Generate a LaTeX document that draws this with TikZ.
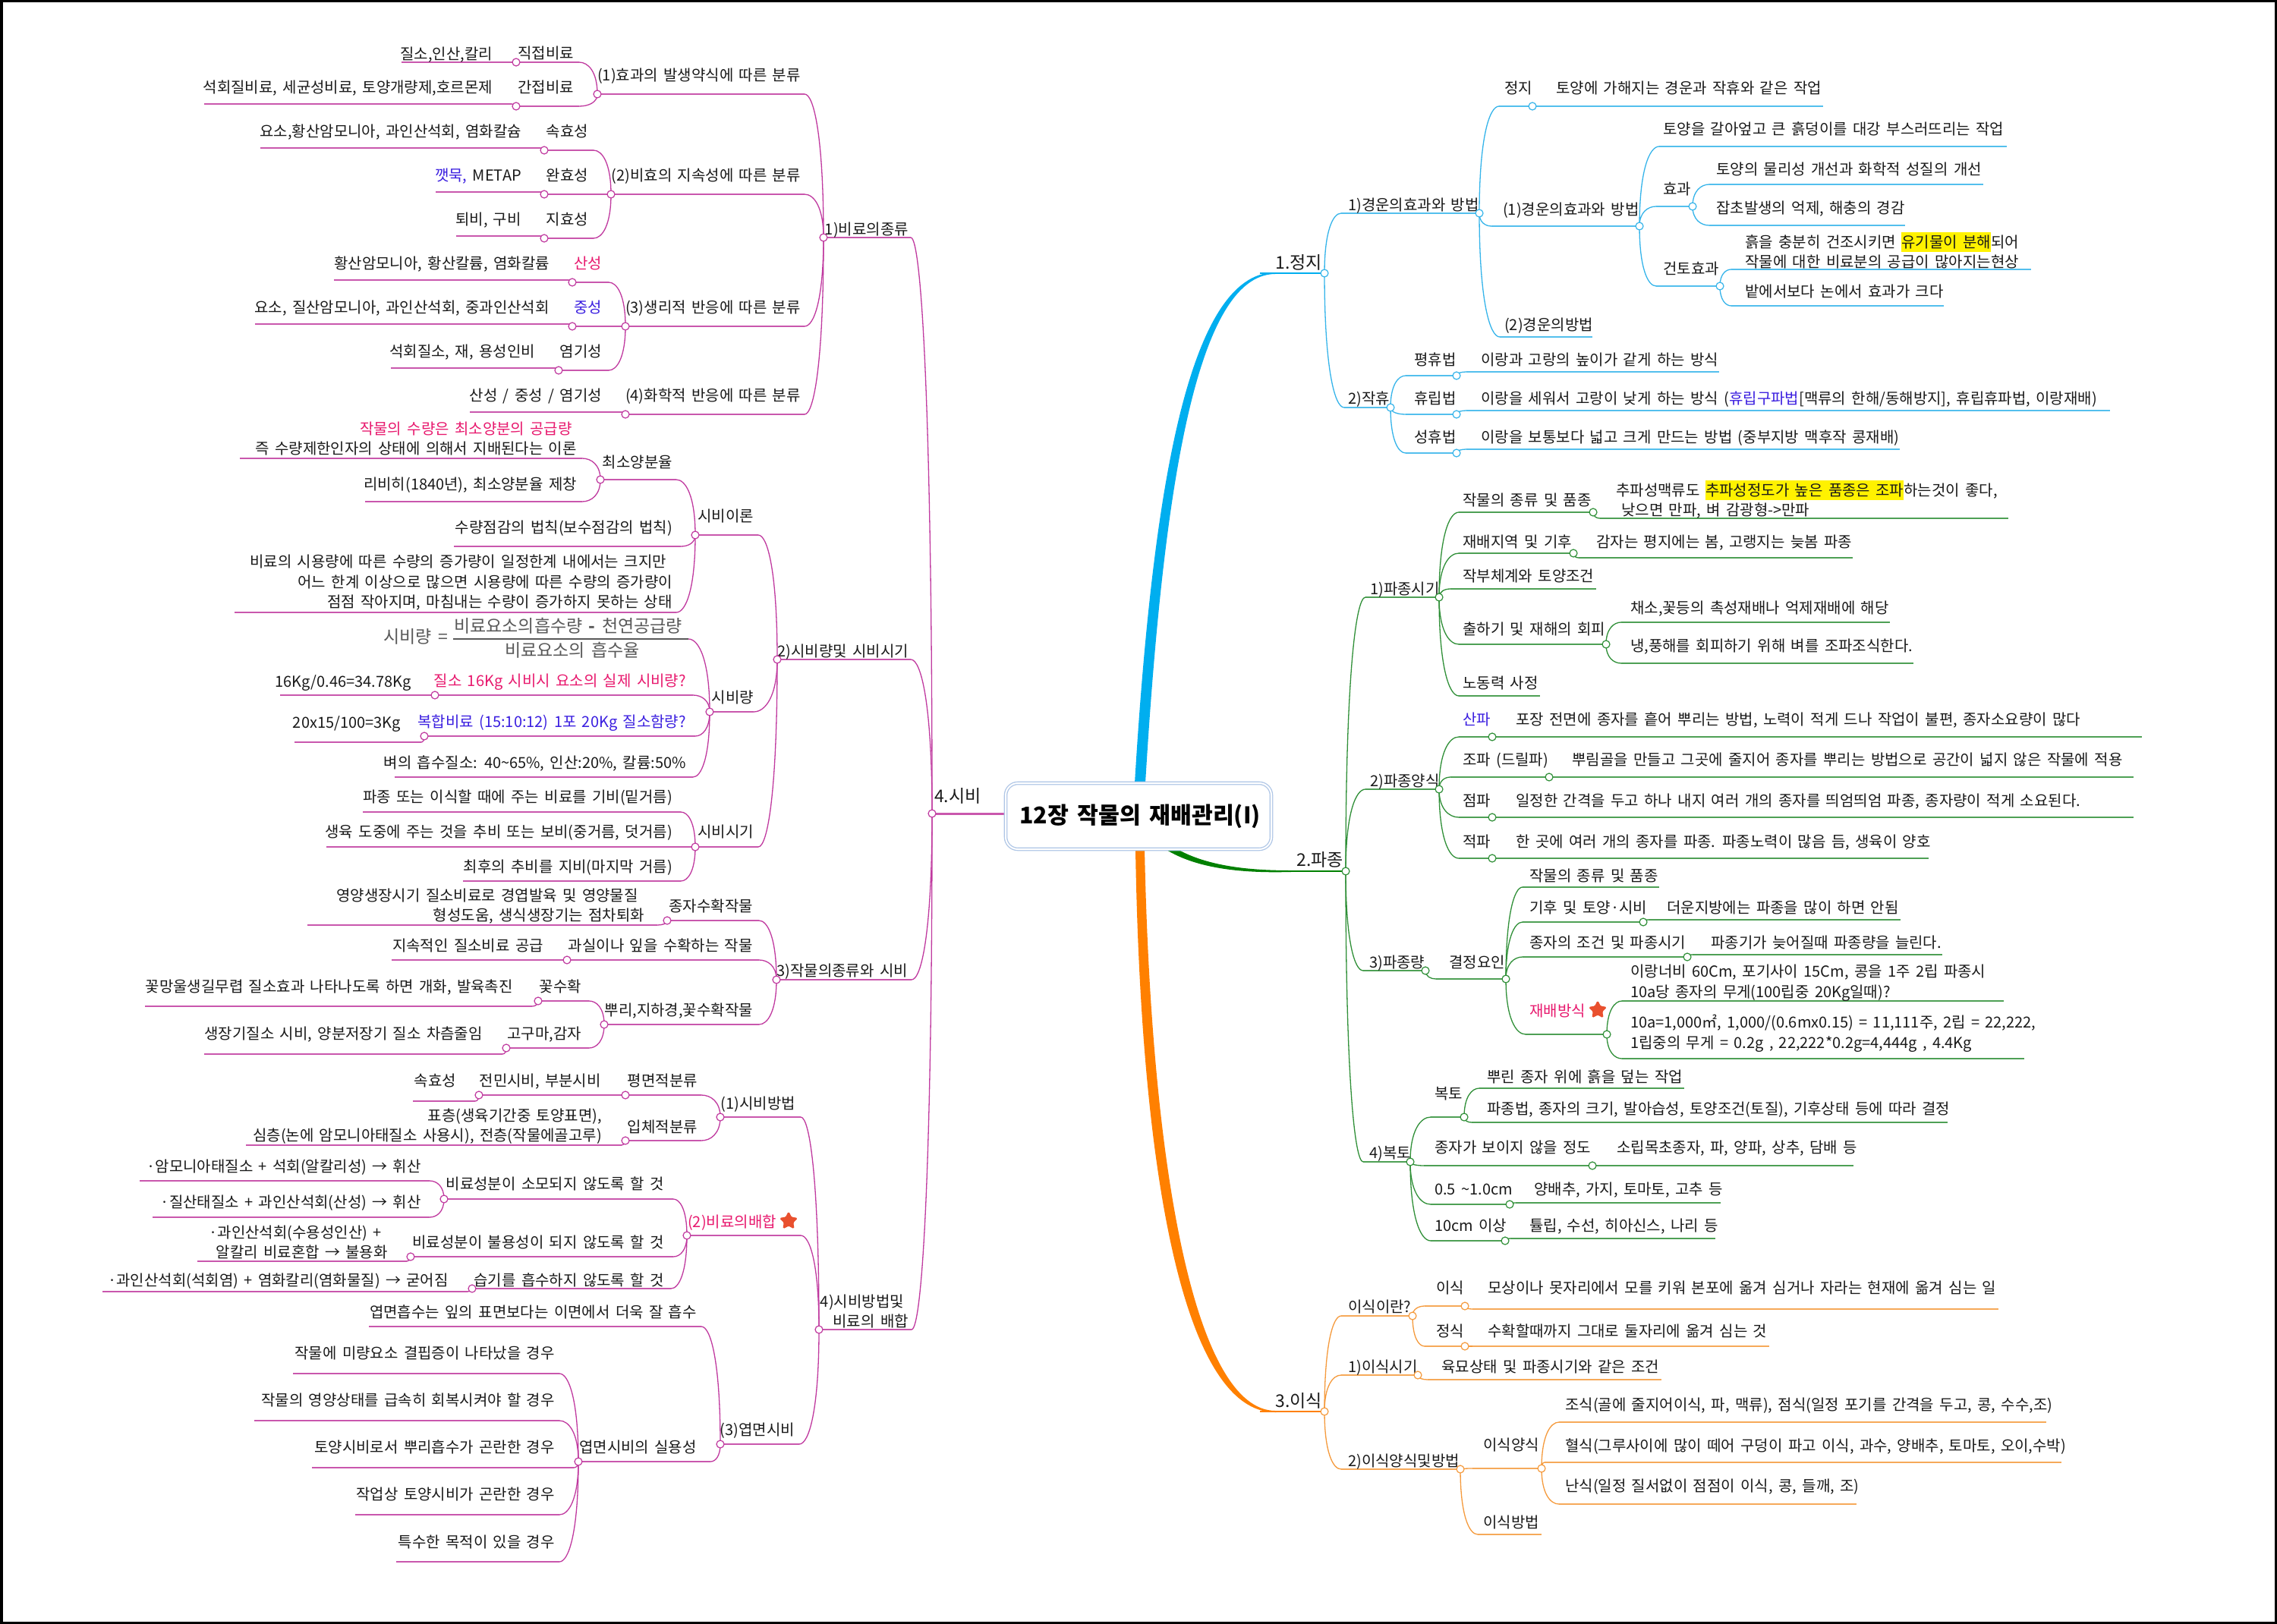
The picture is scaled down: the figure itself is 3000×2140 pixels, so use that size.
\documentclass[tikz,border=0pt]{standalone}
\usepackage{fontspec}
\usepackage{xcolor}
\setmainfont{Noto Sans CJK KR}[WordSpace=1.65]
\usetikzlibrary{shapes.geometric}
\usetikzlibrary{calc}
\definecolor{ferm}{HTML}{C0399F}
\definecolor{skyb}{HTML}{35B4EA}
\definecolor{skyroot}{HTML}{00AEEF}
\definecolor{leaf}{HTML}{2F8F37}
\definecolor{leafroot}{HTML}{008000}
\definecolor{orng}{HTML}{F59A3C}
\definecolor{orngroot}{HTML}{FF8000}
\definecolor{hotpk}{HTML}{E8196E}
\definecolor{vblue}{HTML}{3B1FE0}
\definecolor{ink}{HTML}{1A1A1A}
\definecolor{rimblue}{HTML}{AFC6E6}
\definecolor{starred}{HTML}{E9502E}
\setlength{\fboxsep}{0pt}
\pgfdeclarelayer{bg}
\pgfsetlayers{bg,main}
\tikzset{
    txt/.style = {inner sep=0pt, text=ink, font=\fontsize{20}{26.5}\selectfont, text height=19pt, text depth=4pt},
    ltxt/.style = {txt, anchor=east},
    rtxt/.style = {txt, anchor=west},
    ml/.style = {text height=, text depth=},
    lvl/.style = {font=\fontsize{23}{28}\selectfont},
    pinktxt/.style = {text=hotpk},
    bluetxt/.style = {text=vblue},
    fmla/.style = {lvl, text=black!65},
    uline/.style = {draw=br!85, line width=2.6pt},
    cv/.style = {draw=br, line width=1.3pt},
    dot/.style = {circle, draw=br, fill=white, line width=1.2pt, inner sep=0pt, minimum size=10pt},
    redstar/.style = {star, star points=5, star point ratio=2, fill=starred, draw=starred, line width=1pt, rounded corners=1.5pt, inner sep=0pt, minimum size=24pt},
    main/.style = {rectangle, rounded corners=16pt, draw=rimblue, double=white, double distance=2pt, line width=1.3pt, fill=white, minimum width=350pt, minimum height=87pt, font=\fontsize{30.3}{36}\selectfont\bfseries, text=black}
}
\newcommand{\hlt}[1]{\colorbox{yellow}{\rule[-5.5pt]{0pt}{26pt}#1}}
\newcommand{\cnct}[2]{\draw[cv] (#1) .. controls ($(#1)!0.7!(#1 |- #2)$) and ($(#2)!0.5!(#1 |- #2)$) .. (#2);}
\newcommand{\tl}[9][]{%
    \coordinate (#2-j) at (#4,#6);
    \coordinate (#2-n) at (#5,#6);
    \begin{pgfonlayer}{bg}
        \draw[uline] (#2-j) -- (#2-n);
        \cnct{#3-j}{#2-n}
    \end{pgfonlayer}
    \node[ltxt,#1] (#2) at (#7,#8) {#9};
}
\newcommand{\tr}[9][]{%
    \coordinate (#2-j) at (#5,#6);
    \coordinate (#2-n) at (#4,#6);
    \begin{pgfonlayer}{bg}
        \draw[uline] (#2-n) -- (#2-j);
        \cnct{#3-j}{#2-n}
    \end{pgfonlayer}
    \node[rtxt,#1] (#2) at (#7,#8) {#9};
}
\newcommand{\jd}[1]{\node[dot] (#1-d) at (#1-j) {};}

\begin{document}
\begin{tikzpicture}[x=1pt,y=-1pt]
    \useasboundingbox (0,0) rectangle (3000,2140);
    \begin{pgfonlayer}{bg}
        \fill[white] (0,0) rectangle (3000,2140);
    \end{pgfonlayer}

    \node[main] (title) at (1500,1075.5) {\hspace*{4pt}12장 작물의 재배관리(I)};

    \coordinate (s-j) at (1228,1072);
    \coordinate (j-j) at (1745,360);
    \coordinate (p-j) at (1773,1148);
    \coordinate (i-j) at (1745,1860);

    \node[rtxt,lvl] (s) at (1231,1050) {4.시비};
    \node[ltxt,lvl] (j) at (1742,347) {1.정지};
    \node[ltxt,lvl] (p) at (1770,1134) {2.파종};
    \node[ltxt,lvl] (i) at (1742,1847) {3.이식};

    \begin{pgfonlayer}{bg}
        \draw[draw=ferm!85, line width=3pt] (s-j) -- (title.west |- s-j);
        \fill[skyroot] (1495,1032) .. controls (1518,650) and (1565,359) .. (1680,359) -- (j-j) -- (1680,361) .. controls (1575,362) and (1532,650) .. (1509,1032) -- cycle;
        \fill[leafroot] (1553,1120) .. controls (1590,1140) and (1640,1147) .. (1700,1147) -- (p-j) -- (1700,1149) .. controls (1630,1151) and (1575,1143) .. (1537,1120) -- cycle;
        \fill[orngroot] (1496,1119) .. controls (1503,1560) and (1562,1861) .. (1680,1861) -- (i-j) -- (1680,1859) .. controls (1578,1858) and (1517,1560) .. (1508,1119) -- cycle;
        \draw[skyroot, line width=2.4pt] (1660,360) -- (j-j);
        \draw[leafroot, line width=2.4pt] (1690,1148) -- (p-j);
        \draw[orngroot, line width=2.4pt] (1660,1860) -- (i-j);
    \end{pgfonlayer}

    \colorlet{br}{ferm}
    \jd{s}
    \tl{s1}{s}{1085}{1200}{313}{1197}{302}{1)비료의종류} \jd{s1}
    \tl{s11}{s1}{787}{1060}{124}{1055}{99}{(1)효과의 발생약식에 따른 분류} \jd{s11}
    \tl{s111}{s11}{680}{763}{82}{756}{70}{직접비료} \jd{s111}
    \tl{s1111}{s111}{529}{680}{82}{649}{71}{질소,인산,칼리}
    \tl{s112}{s11}{680}{763}{140}{756}{115}{간접비료} \jd{s112}
    \tl{s1121}{s112}{269}{674}{137}{649}{115}{석회질비료, 세균성비료, 토양개량제,호르몬제}
    \tl{s12}{s1}{805}{1060}{256}{1055}{231}{(2)비효의 지속성에 따른 분류} \jd{s12}
    \tl{s121}{s12}{717}{782}{198}{775}{173}{속효성} \jd{s121}
    \tl{s1211}{s121}{343}{712}{195}{687}{173}{요소,황산암모니아, 과인산석회, 염화칼슘}
    \tl{s122}{s12}{717}{805}{256}{775}{231}{완효성} \jd{s122}
    \tl{s1221}{s122}{574}{712}{253}{687}{231}{{\color{vblue}깻묵,} METAP}
    \tl{s123}{s12}{717}{782}{314}{775}{289}{지효성} \jd{s123}
    \tl{s1231}{s123}{601}{712}{311}{687}{289}{퇴비, 구비}
    \tl{s13}{s1}{824}{1060}{430}{1055}{405}{(3)생리적 반응에 따른 분류} \jd{s13}
    \tl[pinktxt]{s131}{s13}{754}{802}{372}{793}{347}{산성} \jd{s131}
    \tl{s1311}{s131}{440}{749}{369}{724}{347}{황산암모니아, 황산칼륨, 염화칼륨}
    \tl[bluetxt]{s132}{s13}{754}{824}{430}{793}{405}{중성} \jd{s132}
    \tl{s1321}{s132}{336}{749}{427}{724}{405}{요소, 질산암모니아, 과인산석회, 중과인산석회}
    \tl{s133}{s13}{736}{802}{488}{793}{463}{염기성} \jd{s133}
    \tl{s1331}{s133}{515}{731}{485}{705}{463}{석회질소, 재, 용성인비}
    \tl{s14}{s1}{824}{1060}{546}{1055}{521}{(4)화학적 반응에 따른 분류} \jd{s14}
    \tl{s141}{s14}{619}{819}{543}{793}{521}{산성 / 중성 / 염기성}

    \tl{s2}{s}{1024}{1200}{869}{1197}{858}{2)시비량및 시비시기} \jd{s2}
    \tl{s21}{s2}{916}{999}{705}{993}{680}{시비이론} \jd{s21}
    \tl{s211}{s21}{791}{891}{632}{886}{609}{최소양분율} \jd{s211}
    \tl[ml,align=right]{s2111}{s211}{316}{767}{604}{760}{578}{{\color{hotpk}작물의 수량은 최소양분의 공급량}\hspace*{6pt}\\즉 수량제한인자의 상태에 의해서 지배된다는 이론}
    \tl{s2112}{s211}{481}{767}{661}{760}{638}{리비히(1840년), 최소양분율 제창}
    \tl{s212}{s21}{598}{897}{720}{886}{695}{수량점감의 법칙(보수점감의 법칙)}
    \tl[ml,align=right]{s213}{s21}{309}{891}{807}{886}{768}{비료의 시용량에 따른 수량의 증가량이 일정한계 내에서는 크지만\hspace*{8pt}\\어느 한계 이상으로 많으면 시용량에 따른 수량의 증가량이\hspace*{8pt}\\점점 작아지며, 마침내는 수량이 증가하지 못하는 상태}
    \tl{s22}{s2}{935}{993}{938}{993}{919}{시비량} \jd{s22}
    \coordinate (fm-a) at (597,842);
    \coordinate (fm-b) at (907,842);
    \begin{pgfonlayer}{bg}
        \draw[draw=black!65, line width=2pt] (fm-a) -- (fm-b);
        \cnct{s22-j}{fm-b}
    \end{pgfonlayer}
    \node[ltxt,fmla] (fm-l) at (590,840) {시비량 =};
    \node[rtxt,fmla] (fm-t) at (598,826) {비료요소의흡수량 \textbf{-} 천연공급량};
    \node[rtxt,fmla] (fm-u) at (665,858) {비료요소의 흡수율};
    \tl[pinktxt]{s221}{s22}{573}{913}{916}{904}{897}{질소 16Kg 시비시 요소의 실제 시비량?} \jd{s221}
    \tl{s2211}{s221}{369}{573}{916}{542}{898}{16Kg/0.46=34.78Kg}
    \tl[bluetxt]{s222}{s22}{559}{916}{970}{904}{951}{복합비료 (15:10:12) 1포 20Kg 질소함량?} \jd{s222}
    \tl{s2221}{s222}{388}{555}{978}{528}{952}{20x15/100=3Kg}
    \tl{s223}{s22}{520}{913}{1024}{904}{1005}{벼의 흡수질소: 40\textasciitilde65\%, 인산:20\%, 칼륨:50\%}
    \tl{s23}{s2}{916}{999}{1116}{993}{1096}{시비시기} \jd{s23}
    \tl{s231}{s23}{478}{897}{1070}{886}{1050}{파종 또는 이식할 때에 주는 비료를 기비(밑거름)}
    \tl{s232}{s23}{430}{912}{1116}{886}{1096}{생육 도중에 주는 것을 추비 또는 보비(중거름, 덧거름)}
    \tl{s233}{s23}{610}{897}{1161}{886}{1142}{최후의 추비를 지비(마지막 거름)}

    \tl{s3}{s}{1023}{1201}{1291}{1196}{1279}{3)작물의종류와 시비} \jd{s3}
    \tl{s31}{s3}{879}{1000}{1213}{992}{1194}{종자수확작물} \jd{s31}
    \tl[ml,align=right]{s311}{s31}{405}{866}{1219}{849}{1194}{영양생장시기 질소비료로 경엽발육 및 영양물질\hspace*{8pt}\\형성도움, 생식생장기는 점차퇴화}
    \tl{s32}{s3}{747}{1000}{1265}{992}{1246}{과실이나 잎을 수확하는 작물} \jd{s32}
    \tl{s321}{s32}{516}{747}{1265}{716}{1246}{지속적인 질소비료 공급}
    \tl{s33}{s3}{796}{1000}{1350}{992}{1331}{뿌리,지하경,꽃수확작물} \jd{s33}
    \tl{s331}{s33}{709}{776}{1319}{766}{1300}{꽃수확} \jd{s331}
    \tl{s3311}{s331}{191}{701}{1326}{676}{1300}{꽃망울생길무렵 질소효과 나타나도록 하면 개화, 발육촉진}
    \tl{s332}{s33}{667}{776}{1381}{766}{1362}{고구마,감자} \jd{s332}
    \tl{s3321}{s332}{269}{662}{1389}{636}{1362}{생장기질소 시비, 양분저장기 질소 차츰줄임}

    \tl[ml,align=right]{s4}{s}{1079}{1201}{1752}{1197}{1728}{4)시비방법및\hspace*{6pt}\\비료의 배합} \jd{s4}
    \tl{s41}{s4}{949}{1055}{1472}{1048}{1454}{(1)시비방법} \jd{s41}
    \tl{s411}{s41}{824}{924}{1443}{919}{1424}{평면적분류} \jd{s411}
    \tl{s4111}{s411}{631}{824}{1443}{792}{1424}{전민시비, 부분시비} \jd{s4111}
    \tl{s41111}{s4111}{544}{626}{1451}{601}{1424}{속효성}
    \tl{s412}{s41}{824}{924}{1503}{919}{1485}{입체적분류} \jd{s412}
    \tl[ml,align=right]{s4121}{s412}{324}{819}{1509}{793}{1484}{표층(생육기간중 토양표면),\\심층(논에 암모니아태질소 사용시), 전층(작물에골고루)}
    \tl[pinktxt]{s42}{s4}{905}{1055}{1628}{1023}{1610}{(2)비료의배합} \jd{s42}
    \node[redstar] (s42-star) at (1039,1609) {};
    \tl{s421}{s42}{585}{887}{1580}{875}{1560}{비료성분이 소모되지 않도록 할 것} \jd{s421}
    \tl{s4211}{s421}{184}{566}{1556}{555}{1537}{·암모니아태질소 + 석회(알칼리성) → 휘산}
    \tl{s4212}{s421}{201}{566}{1604}{555}{1584}{·질산태질소 + 과인산석회(산성) → 휘산}
    \tl{s422}{s42}{541}{887}{1656}{875}{1637}{비료성분이 불용성이 되지 않도록 할 것} \jd{s422}
    \tl[ml,align=right]{s4221}{s422}{260}{536}{1662}{511}{1637}{·과인산석회(수용성인산) +\hspace*{8pt}\\알칼리 비료혼합 → 불용화}
    \tl{s423}{s42}{622}{884}{1698}{875}{1687}{습기를 흡수하지 않도록 할 것} \jd{s423}
    \tl{s4231}{s423}{135}{616}{1702}{591}{1687}{·과인산석회(석회염) + 염화칼리(염화물질) → 굳어짐}
    \tl{s43}{s4}{949}{1053}{1903}{1047}{1884}{(3)엽면시비} \jd{s43}
    \tl{s431}{s43}{486}{924}{1748}{918}{1729}{엽면흡수는 잎의 표면보다는 이면에서 더욱 잘 흡수}
    \tl{s432}{s43}{762}{936}{1926}{918}{1907}{엽면시비의 실용성} \jd{s432}
    \tl{s4321}{s432}{386}{737}{1810}{731}{1783}{작물에 미량요소 결핍증이 나타났을 경우}
    \tl{s4322}{s432}{335}{737}{1872}{731}{1845}{작물의 영양상태를 급속히 회복시켜야 할 경우}
    \tl{s4323}{s432}{411}{756}{1934}{731}{1907}{토양시비로서 뿌리흡수가 곤란한 경우}
    \tl{s4324}{s432}{468}{737}{1996}{731}{1969}{작업상 토양시비가 곤란한 경우}
    \tl{s4325}{s432}{522}{737}{2058}{731}{2032}{특수한 목적이 있을 경우}

    \colorlet{br}{skyb}
    \jd{j}
    \tr{j1}{j}{1767}{1949}{281}{1776}{270}{1)경운의효과와 방법} \jd{j1}
    \tr{j11}{j1}{1975}{2019}{140}{1982}{116}{정지} \jd{j11}
    \tr{j111}{j11}{2019}{2402}{140}{2050}{116}{토양에 가해지는 경운과 작휴와 같은 작업}
    \tr{j12}{j1}{1965}{2160}{298}{1980}{276}{(1)경운의효과와 방법} \jd{j12}
    \tr{j121}{j12}{2186}{2644}{193}{2191}{170}{토양을 갈아엎고 큰 흙덩이를 대강 부스러뜨리는 작업}
    \tr{j122}{j12}{2182}{2230}{272}{2191}{249}{효과} \jd{j122}
    \tr{j1221}{j122}{2252}{2613}{243}{2261}{223}{토양의 물리성 개선과 화학적 성질의 개선}
    \tr{j1222}{j122}{2252}{2510}{297}{2261}{274}{잡초발생의 억제, 해충의 경감}
    \tr{j123}{j12}{2182}{2266}{377}{2191}{354}{건토효과} \jd{j123}
    \tr[ml,align=left]{j1231}{j123}{2281}{2676}{355}{2299}{330}{흙을 충분히 건조시키면 \hlt{유기물이 분해}되어\\작물에 대한 비료분의 공급이 많아지는현상}
    \tr{j1232}{j123}{2281}{2561}{403}{2299}{384}{밭에서보다 논에서 효과가 크다}
    \tr{j13}{j1}{1976}{2098}{444}{1982}{428}{(2)경운의방법}
    \tr{j2}{j}{1771}{1832}{537}{1776}{525}{2)작휴} \jd{j2}
    \tr{j21}{j2}{1852}{1919}{495}{1863}{474}{평휴법} \jd{j21}
    \tr{j211}{j21}{1932}{2265}{490}{1951}{474}{이랑과 고랑의 높이가 같게 하는 방식}
    \tr{j22}{j2}{1852}{1919}{546}{1863}{525}{휴립법} \jd{j22}
    \tr{j221}{j22}{1932}{2780}{541}{1951}{525}{이랑을 세워서 고랑이 낮게 하는 방식 ({\color{vblue}휴립구파법}[맥류의 한해/동해방지], 휴립휴파법, 이랑재배)}
    \tr{j23}{j2}{1852}{1919}{597}{1863}{576}{성휴법} \jd{j23}
    \tr{j231}{j23}{1932}{2503}{592}{1951}{576}{이랑을 보통보다 넓고 크게 만드는 방법 (중부지방 맥후작 콩재배)}

    \colorlet{br}{leaf}
    \jd{p}
    \tr{p1}{p}{1799}{1896}{787}{1805}{776}{1)파종시기} \jd{p1}
    \tr{p11}{p1}{1922}{2099}{675}{1927}{659}{작물의 종류 및 품종} \jd{p11}
    \tr[ml,align=left]{p111}{p11}{2108}{2646}{683}{2129}{658}{추파성맥류도 \hlt{추파성정도가 높은 품종은 조파}하는것이 좋다,\\\hspace*{7pt}낮으면 만파, 벼 감광형->만파}
    \tr{p12}{p1}{1922}{2073}{729}{1927}{714}{재배지역 및 기후} \jd{p12}
    \tr{p121}{p12}{2080}{2441}{735}{2103}{714}{감자는 평지에는 봄, 고랭지는 늦봄 파종}
    \tr{p13}{p1}{1911}{2103}{776}{1927}{759}{작부체계와 토양조건}
    \tr{p14}{p1}{1922}{2116}{849}{1927}{829}{출하기 및 재해의 회피} \jd{p14}
    \tr{p141}{p14}{2136}{2490}{820}{2148}{801}{채소,꽃등의 촉성재배나 억제재배에 해당}
    \tr{p142}{p14}{2136}{2521}{874}{2148}{851}{냉,풍해를 회피하기 위해 벼를 조파조식한다.}
    \tr{p15}{p1}{1922}{2029}{917}{1927}{900}{노동력 사정}
    \tr{p2}{p}{1799}{1896}{1040}{1805}{1029}{2)파종양식} \jd{p2}
    \tr[bluetxt]{p21}{p2}{1922}{1966}{971}{1927}{948}{산파} \jd{p21}
    \tr{p211}{p21}{1966}{2822}{971}{1997}{948}{포장 전면에 종자를 흩어 뿌리는 방법, 노력이 적게 드나 작업이 불편, 종자소요량이 많다}
    \tr{p22}{p2}{1911}{2041}{1024}{1927}{1001}{조파 (드릴파)} \jd{p22}
    \tr{p221}{p22}{2041}{2811}{1024}{2071}{1001}{뿌림골을 만들고 그곳에 줄지어 종자를 뿌리는 방법으로 공간이 넓지 않은 작물에 적용}
    \tr{p23}{p2}{1922}{1966}{1077}{1927}{1055}{점파} \jd{p23}
    \tr{p231}{p23}{1966}{2811}{1077}{1997}{1055}{일정한 간격을 두고 하나 내지 여러 개의 종자를 띄엄띄엄 파종, 종자량이 적게 소요된다.}
    \tr{p24}{p2}{1922}{1966}{1131}{1927}{1109}{적파} \jd{p24}
    \tr{p241}{p24}{1966}{2541}{1131}{1997}{1109}{한 곳에 여러 개의 종자를 파종. 파종노력이 많음 듬, 생육이 양호}
    \tr{p3}{p}{1796}{1878}{1279}{1804}{1268}{3)파종량} \jd{p3}
    \tr{p31}{p3}{1892}{1984}{1290}{1909}{1268}{결정요인} \jd{p31}
    \tr{p311}{p31}{2006}{2186}{1169}{2015}{1154}{작물의 종류 및 품종}
    \tr{p312}{p31}{2006}{2165}{1215}{2015}{1196}{기후 및 토양·시비} \jd{p312}
    \tr{p3121}{p312}{2172}{2504}{1212}{2196}{1196}{더운지방에는 파종을 많이 하면 안됨}
    \tr{p313}{p31}{2006}{2223}{1261}{2015}{1242}{종자의 조건 및 파종시기} \jd{p313}
    \tr{p3131}{p313}{2230}{2559}{1258}{2254}{1242}{파종기가 늦어질때 파종량을 늘린다.}
    \tr[pinktxt]{p314}{p31}{2010}{2117}{1363}{2015}{1332}{재배방식} \jd{p314}
    \node[redstar] (p314-star) at (2105,1331) {};
    \tr[ml,align=left]{p3141}{p314}{2137}{2640}{1319}{2148}{1295}{이랑너비 60Cm, 포기사이 15Cm, 콩을 1주 2립 파종시\\10a당 종자의 무게(100립중 20Kg일때)?}
    \tr[ml,align=left]{p3142}{p314}{2137}{2667}{1395}{2148}{1362}{10a=1,000㎡, 1,000/(0.6mx0.15) = 11,111주, 2립 = 22,222,\\1립중의 무게 = 0.2g , 22,222*0.2g=4,444g , 4.4Kg}
    \tr{p4}{p}{1796}{1858}{1531}{1804}{1519}{4)복토} \jd{p4}
    \tr{p41}{p4}{1885}{1929}{1472}{1890}{1441}{복토} \jd{p41}
    \tr{p411}{p41}{1949}{2219}{1434}{1959}{1419}{뿌린 종자 위에 흙을 덮는 작업}
    \tr{p412}{p41}{1939}{2566}{1479}{1959}{1461}{파종법, 종자의 크기, 발아습성, 토양조건(토질), 기후상태 등에 따라 결정}
    \tr{p42}{p4}{1876}{2098}{1536}{1890}{1512}{종자가 보이지 않을 정도} \jd{p42}
    \tr{p421}{p42}{2098}{2442}{1536}{2130}{1512}{소립목초종자, 파, 양파, 상추, 담배 등}
    \tr{p43}{p4}{1885}{1989}{1587}{1890}{1567}{0.5 \textasciitilde1.0cm} \jd{p43}
    \tr{p431}{p43}{1997}{2267}{1585}{2021}{1567}{양배추, 가지, 토마토, 고추 등}
    \tr{p44}{p4}{1885}{1983}{1635}{1890}{1615}{10cm 이상} \jd{p44}
    \tr{p441}{p44}{1990}{2260}{1632}{2015}{1615}{튤립, 수선, 히아신스, 나리 등}

    \colorlet{br}{orng}
    \jd{i}
    \tr{i1}{i}{1767}{1861}{1734}{1776}{1722}{이식이란?} \jd{i1}
    \tr{i11}{i1}{1877}{1930}{1721}{1892}{1697}{이식} \jd{i11}
    \tr{i111}{i11}{1940}{2633}{1725}{1960}{1697}{모상이나 못자리에서 모를 키워 본포에 옮겨 심거나 자라는 현재에 옮겨 심는 일}
    \tr{i12}{i1}{1877}{1930}{1774}{1892}{1754}{정식} \jd{i12}
    \tr{i121}{i12}{1940}{2331}{1774}{1960}{1754}{수확할때까지 그대로 둘자리에 옮겨 심는 것}
    \tr{i2}{i}{1767}{1868}{1812}{1776}{1801}{1)이식시기} \jd{i2}
    \tr{i21}{i2}{1881}{2189}{1818}{1899}{1801}{육묘상태 및 파종시기와 같은 조건}
    \tr{i3}{i}{1767}{1924}{1936}{1776}{1925}{2)이식양식및방법} \jd{i3}
    \tr{i31}{i3}{1940}{2031}{1935}{1954}{1904}{이식양식} \jd{i31}
    \tr{i311}{i31}{2054}{2696}{1874}{2062}{1851}{조식(골에 줄지어이식, 파, 맥류), 점식(일정 포기를 간격을 두고, 콩, 수수,조)}
    \tr{i312}{i31}{2035}{2716}{1927}{2062}{1905}{혈식(그루사이에 많이 떼어 구덩이 파고 이식, 과수, 양배추, 토마토, 오이,수박)}
    \tr{i313}{i31}{2054}{2446}{1982}{2062}{1958}{난식(일정 질서없이 점점이 이식, 콩, 들깨, 조)}
    \tr{i32}{i3}{1947}{2031}{2022}{1954}{2006}{이식방법}

    \draw[black, line width=3.5pt] (1.75,1.75) rectangle (2998.25,2138.25);
\end{tikzpicture}
\end{document}
